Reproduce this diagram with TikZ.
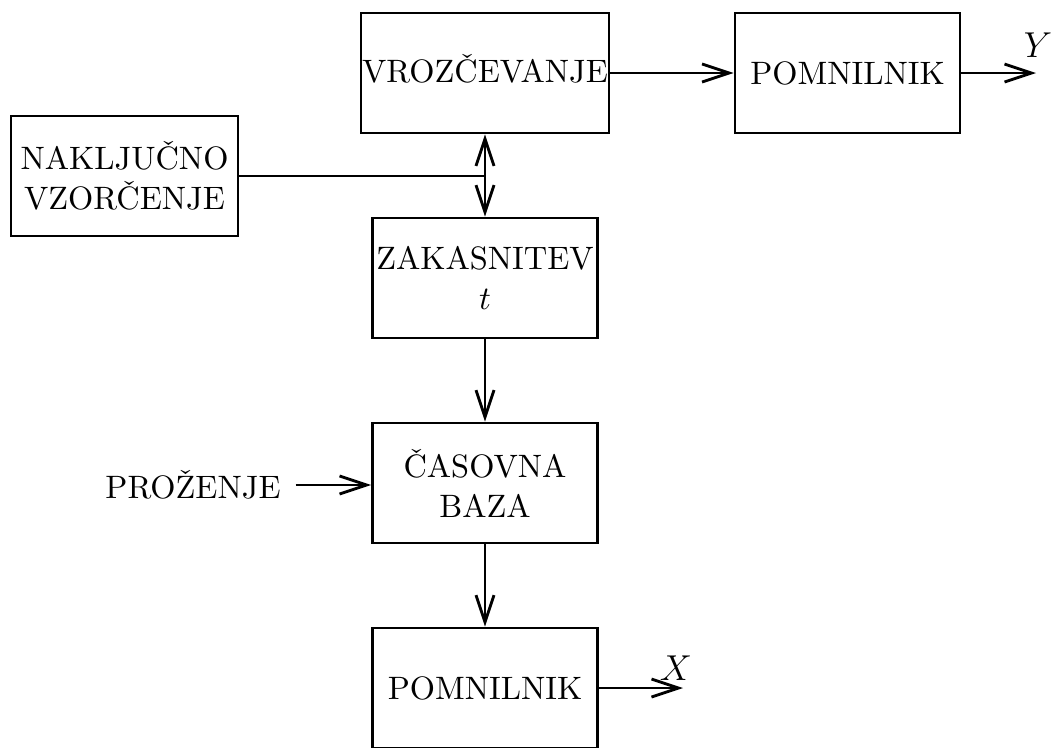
\documentclass[tikz,border=0pt]{standalone}
\usepackage{fontspec}
\usetikzlibrary{arrows.meta}
\begin{document}
\begin{tikzpicture}[x=0.33333pt,y=-0.33333pt,
  every node/.style={font=\fontsize{10.8}{13.3}\selectfont},
  box/.style={draw, line width=0.95pt, minimum height=40pt, align=center, inner sep=0pt},
  arr/.style={-{Straight Barb[length=9pt,width=6pt,line width=0.95pt]}, line width=0.95pt},
  darr/.style={{Straight Barb[length=9pt,width=6pt,line width=0.95pt]}-{Straight Barb[length=9pt,width=6pt,line width=0.95pt]}, line width=0.95pt},
  lab/.style={font=\large}]
\useasboundingbox (0,0) rectangle (1052,747);
\node[box, minimum width=82.7pt, text height=6.6pt, text depth=0pt] (vro) at (485,73) {VROZČEVANJE};
\node[box, minimum width=75pt] (pom1) at (847.5,73) {POMNILNIK};
\node[box, minimum width=75.7pt] (nak) at (124.5,176) {NAKLJUČNO\\VZORČENJE};
\node[box, minimum width=75pt] (zak) at (485,278) {ZAKASNITEV\\$t$};
\node[box, minimum width=75pt] (cas) at (485,483) {ČASOVNA\\BAZA};
\node[box, minimum width=75pt] (pom2) at (485,688) {POMNILNIK};
\node (pro) at (193,485) {PROŽENJE};
\coordinate (Yend) at (1036,73);
\coordinate (Xend) at (683,688);
\node[lab] (ylab) at (1038,45) {$Y$};
\node[lab] (xlab) at (676,668) {$X$};
\draw[arr] (vro.east) -- (pom1.west);
\draw[arr] (pom1.east) -- (Yend);
\draw[arr] (pom2.east) -- (Xend);
\draw[darr] (vro.south) -- (zak.north);
\draw[line width=0.95pt] (nak.east) -- (nak.east -| zak.north);
\draw[arr] (zak.south) -- (cas.north);
\draw[arr] (cas.south) -- (pom2.north);
\draw[arr, shorten <=1.5pt] (pro.east) -- (pro.east -| cas.west);
\end{tikzpicture}
\end{document}
